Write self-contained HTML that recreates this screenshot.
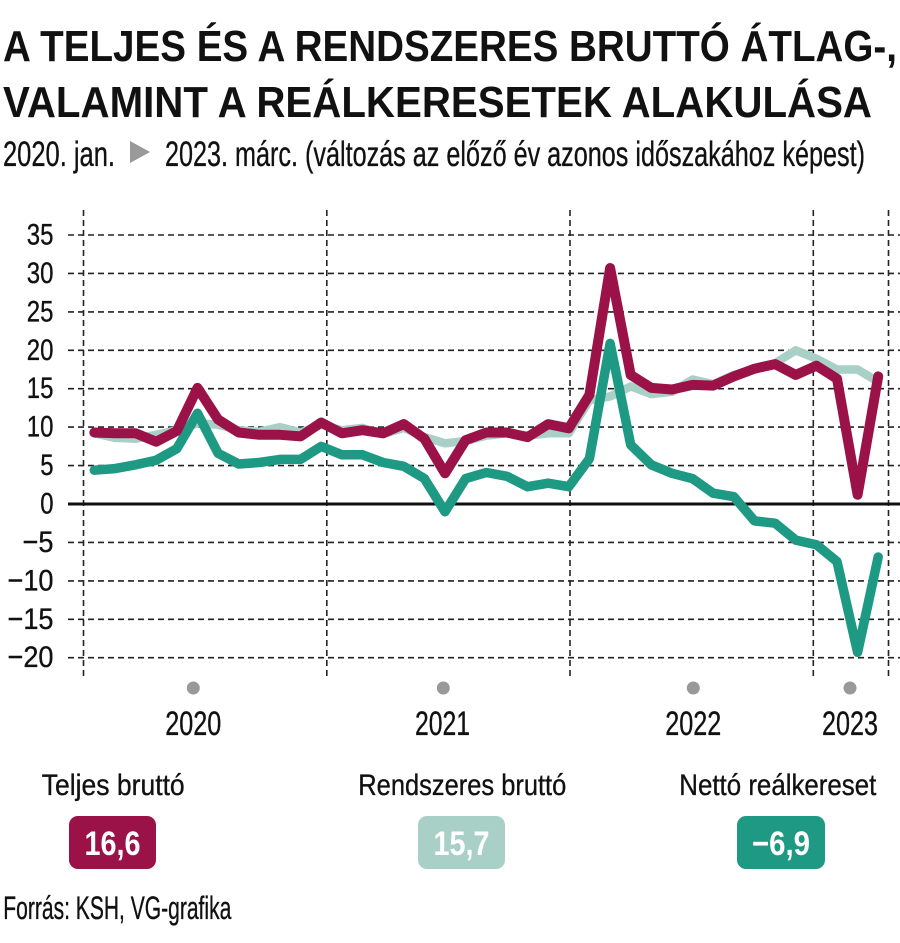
<!DOCTYPE html>
<html>
<head>
<meta charset="utf-8">
<style>
html,body{margin:0;padding:0;background:#fff;}
svg{display:block;}
text{font-family:"Liberation Sans",sans-serif;fill:#111;}
.rg{stroke:#111;stroke-width:0.35px;}
</style>
</head>
<body>
<svg width="900" height="943" viewBox="0 0 900 943" xmlns="http://www.w3.org/2000/svg">
<!-- Title -->
<text x="3" y="61" font-size="44" font-weight="bold" textLength="894" lengthAdjust="spacingAndGlyphs">A TELJES ÉS A RENDSZERES BRUTTÓ ÁTLAG-,</text>
<text x="3" y="117" font-size="44" font-weight="bold" textLength="869" lengthAdjust="spacingAndGlyphs">VALAMINT A REÁLKERESETEK ALAKULÁSA</text>
<text class="rg" x="3" y="166" font-size="35" textLength="112" lengthAdjust="spacingAndGlyphs">2020. jan.</text>
<polygon points="130,141 150,152 130,163" fill="#999"/>
<text class="rg" x="165" y="166" font-size="35" textLength="700" lengthAdjust="spacingAndGlyphs">2023. márc. (változás az előző év azonos időszakához képest)</text>

<!-- grid -->
<g stroke="#222" stroke-width="1.6" stroke-dasharray="6,4" fill="none">
<line x1="68" y1="235" x2="900" y2="235"/>
<line x1="68" y1="273.4" x2="900" y2="273.4"/>
<line x1="68" y1="311.9" x2="900" y2="311.9"/>
<line x1="68" y1="350.3" x2="900" y2="350.3"/>
<line x1="68" y1="388.7" x2="900" y2="388.7"/>
<line x1="68" y1="427.1" x2="900" y2="427.1"/>
<line x1="68" y1="465.6" x2="900" y2="465.6"/>
<line x1="68" y1="542.4" x2="900" y2="542.4"/>
<line x1="68" y1="580.9" x2="900" y2="580.9"/>
<line x1="68" y1="619.3" x2="900" y2="619.3"/>
<line x1="68" y1="657.7" x2="900" y2="657.7"/>
<line x1="83.5" y1="210" x2="83.5" y2="678"/>
<line x1="326.8" y1="210" x2="326.8" y2="678"/>
<line x1="570" y1="210" x2="570" y2="678"/>
<line x1="813.3" y1="210" x2="813.3" y2="678"/>
<line x1="888.5" y1="210" x2="888.5" y2="678"/>
</g>
<line x1="68" y1="504" x2="900" y2="504" stroke="#111" stroke-width="3"/>

<!-- y labels -->
<g font-size="30" text-anchor="end" class="rg">
<text x="53.5" y="244.5" textLength="26.7" lengthAdjust="spacingAndGlyphs">35</text>
<text x="53.5" y="282.9" textLength="26.7" lengthAdjust="spacingAndGlyphs">30</text>
<text x="53.5" y="321.4" textLength="26.7" lengthAdjust="spacingAndGlyphs">25</text>
<text x="53.5" y="359.8" textLength="26.7" lengthAdjust="spacingAndGlyphs">20</text>
<text x="53.5" y="398.2" textLength="26.7" lengthAdjust="spacingAndGlyphs">15</text>
<text x="53.5" y="436.6" textLength="26.7" lengthAdjust="spacingAndGlyphs">10</text>
<text x="53.5" y="475.1" textLength="13.3" lengthAdjust="spacingAndGlyphs">5</text>
<text x="53.5" y="513.5" textLength="13.3" lengthAdjust="spacingAndGlyphs">0</text>
<text x="53.5" y="551.9" textLength="31" lengthAdjust="spacingAndGlyphs">−5</text>
<text x="53.5" y="590.4" textLength="46" lengthAdjust="spacingAndGlyphs">−10</text>
<text x="53.5" y="628.8" textLength="46" lengthAdjust="spacingAndGlyphs">−15</text>
<text x="53.5" y="667.2" textLength="46" lengthAdjust="spacingAndGlyphs">−20</text>
</g>

<!-- series -->
<g fill="none" stroke-linejoin="round" stroke-linecap="round">
<polyline stroke="#a9d0c6" stroke-width="8.5" points="94.3,433.3 114.9,437.9 135.6,438.7 156.2,434.8 176.8,430.2 197.5,423.3 218.1,424.8 238.7,430.2 259.3,431.8 280.0,427.1 300.6,432.5 321.2,424.8 341.9,430.2 362.5,427.9 383.1,434.1 403.8,427.9 424.4,437.1 445.0,443.3 465.6,441.0 486.3,435.6 506.9,433.3 527.5,435.6 548.2,433.3 568.8,433.3 589.4,400.2 610.1,396.4 630.7,386.4 651.3,394.1 671.9,391.8 692.6,379.5 713.2,384.1 733.8,374.9 754.5,368.7 775.1,363.3 795.7,350.3 816.4,358.7 837.0,369.5 857.6,369.5 878.2,381.8"/>
<polyline stroke="#1e9a84" stroke-width="9.5" points="94.3,470.2 114.9,468.6 135.6,464.8 156.2,460.2 176.8,448.7 197.5,413.3 218.1,453.3 238.7,464.0 259.3,462.5 280.0,459.4 300.6,459.4 321.2,446.4 341.9,454.8 362.5,454.8 383.1,462.5 403.8,466.3 424.4,478.6 445.0,511.7 465.6,478.6 486.3,472.5 506.9,476.3 527.5,486.7 548.2,483.2 568.8,486.7 589.4,458.7 610.1,343.4 630.7,444.8 651.3,464.8 671.9,473.3 692.6,478.6 713.2,493.2 733.8,496.7 754.5,520.9 775.1,523.2 795.7,540.1 816.4,544.7 837.0,561.6 857.6,652.3 878.2,557.0"/>
<polyline stroke="#9b1249" stroke-width="10" points="94.3,432.5 114.9,433.3 135.6,433.3 156.2,441.7 176.8,431.0 197.5,387.9 218.1,419.5 238.7,432.5 259.3,434.8 280.0,434.8 300.6,436.4 321.2,422.5 341.9,433.3 362.5,430.2 383.1,433.3 403.8,424.1 424.4,438.7 445.0,473.3 465.6,440.2 486.3,432.5 506.9,432.5 527.5,437.1 548.2,424.1 568.8,428.3 589.4,394.9 610.1,268.0 630.7,374.9 651.3,387.9 671.9,389.5 692.6,384.9 713.2,385.6 733.8,376.4 754.5,368.7 775.1,364.1 795.7,374.9 816.4,365.7 837.0,378.7 857.6,494.8 878.2,376.4"/>
</g>

<!-- x axis -->
<g fill="#999">
<circle cx="193.3" cy="688" r="6.5"/>
<circle cx="443.3" cy="688" r="6.5"/>
<circle cx="693.3" cy="688" r="6.5"/>
<circle cx="850" cy="688" r="6.5"/>
</g>
<g font-size="34" text-anchor="middle" class="rg">
<text x="193.3" y="735" textLength="56" lengthAdjust="spacingAndGlyphs">2020</text>
<text x="442.5" y="735" textLength="55" lengthAdjust="spacingAndGlyphs">2021</text>
<text x="693.3" y="735" textLength="56" lengthAdjust="spacingAndGlyphs">2022</text>
<text x="850" y="735" textLength="56" lengthAdjust="spacingAndGlyphs">2023</text>
</g>

<!-- legend -->
<g font-size="30" class="rg">
<text x="41.7" y="795" textLength="143" lengthAdjust="spacingAndGlyphs">Teljes bruttó</text>
<text x="358.3" y="795" textLength="208" lengthAdjust="spacingAndGlyphs">Rendszeres bruttó</text>
<text x="679.3" y="795" textLength="197" lengthAdjust="spacingAndGlyphs">Nettó reálkereset</text>
</g>
<rect x="69" y="816" width="87" height="53" rx="9" fill="#9b1249"/>
<rect x="418" y="816" width="87" height="53" rx="9" fill="#a9d0c6"/>
<rect x="737" y="816" width="88" height="53" rx="9" fill="#1e9a84"/>
<g font-size="34" font-weight="bold" text-anchor="middle">
<text x="112.5" y="855" fill="#fff" style="fill:#fff" textLength="56" lengthAdjust="spacingAndGlyphs">16,6</text>
<text x="461.5" y="855" fill="#fff" style="fill:#fff" textLength="56" lengthAdjust="spacingAndGlyphs">15,7</text>
<text x="781" y="855" fill="#fff" style="fill:#fff" textLength="58" lengthAdjust="spacingAndGlyphs">−6,9</text>
</g>

<text class="rg" x="3.3" y="919" font-size="32" textLength="228" lengthAdjust="spacingAndGlyphs">Forrás: KSH, VG-grafika</text>
</svg>
</body>
</html>
